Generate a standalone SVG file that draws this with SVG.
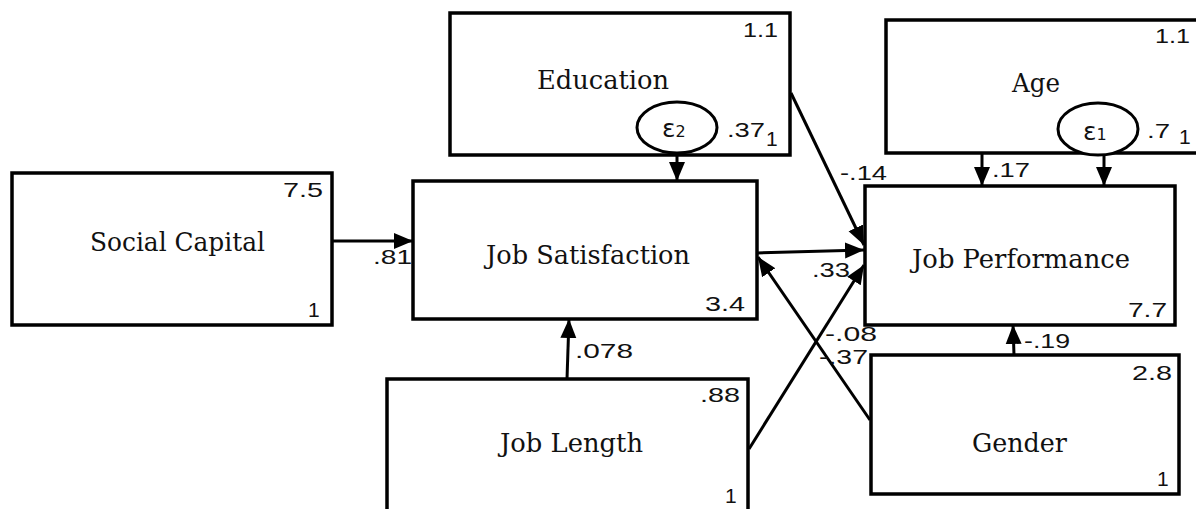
<svg xmlns="http://www.w3.org/2000/svg" width="1196" height="509" viewBox="0 0 1196 509">
<defs>
<marker id="ah" markerUnits="userSpaceOnUse" markerWidth="20" markerHeight="18" refX="19" refY="9" orient="auto">
<path d="M0,1 L19,9 L0,17 Z" fill="#000"/>
</marker>
<style>
.box{fill:#fff;stroke:#000;stroke-width:3.5}
.err{fill:#fff;stroke:#000;stroke-width:3}
.lbl{font-family:"DejaVu Serif","Liberation Serif",serif;font-size:26px;fill:#111}
.num{font-family:"Liberation Sans",Arial,sans-serif;font-size:21px;fill:#111}
.one{font-family:"Liberation Sans",Arial,sans-serif;font-size:21px;fill:#111}
.eps{font-family:"DejaVu Sans","Liberation Sans",sans-serif;font-size:25px;fill:#111}
.sub{font-size:16px}
.con{stroke:#000;stroke-width:3;fill:none;marker-end:url(#ah)}
</style>
</defs>
<rect width="1196" height="509" fill="#fff"/>

<g id="social-capital">
<rect class="box" x="12" y="173" width="320" height="152"/>
<text class="lbl" x="90" y="251" textLength="175" lengthAdjust="spacingAndGlyphs">Social Capital</text>
<text class="num" x="283" y="197" textLength="40" lengthAdjust="spacingAndGlyphs">7.5</text>
<text class="one" x="308" y="317">1</text>
</g>

<g id="job-satisfaction">
<rect class="box" x="413" y="181" width="344" height="138"/>
<text class="lbl" x="486" y="264" textLength="204" lengthAdjust="spacingAndGlyphs">Job Satisfaction</text>
<text class="num" x="705" y="311" textLength="40" lengthAdjust="spacingAndGlyphs">3.4</text>
</g>

<g id="education">
<rect class="box" x="450" y="13" width="340" height="142"/>
<text class="lbl" x="537" y="89" textLength="132" lengthAdjust="spacingAndGlyphs">Education</text>
<text class="num" x="743" y="37" textLength="35" lengthAdjust="spacingAndGlyphs">1.1</text>
<text class="num" x="727" y="137" textLength="38" lengthAdjust="spacingAndGlyphs">.37</text>
<text class="one" x="766" y="146">1</text>
</g>

<g id="e2">
<ellipse class="err" cx="677" cy="127.5" rx="40" ry="25.5"/>
<text class="eps" x="662" y="137">ε<tspan class="sub">2</tspan></text>
</g>

<g id="age">
<rect class="box" x="886" y="20" width="320" height="133"/>
<text class="lbl" x="1012" y="92" textLength="48" lengthAdjust="spacingAndGlyphs">Age</text>
<text class="num" x="1155" y="43" textLength="35" lengthAdjust="spacingAndGlyphs">1.1</text>
<text class="num" x="1147" y="138" textLength="23" lengthAdjust="spacingAndGlyphs">.7</text>
<text class="one" x="1179" y="144">1</text>
</g>

<g id="e1">
<ellipse class="err" cx="1098" cy="129" rx="40" ry="26"/>
<text class="eps" x="1083" y="140">ε<tspan class="sub">1</tspan></text>
</g>

<g id="job-performance">
<rect class="box" x="865" y="186" width="310" height="139"/>
<text class="lbl" x="912" y="268" textLength="218" lengthAdjust="spacingAndGlyphs">Job Performance</text>
<text class="num" x="1128" y="317" textLength="39" lengthAdjust="spacingAndGlyphs">7.7</text>
</g>

<g id="job-length">
<rect class="box" x="387" y="379" width="361" height="140"/>
<text class="lbl" x="500" y="452" textLength="143" lengthAdjust="spacingAndGlyphs">Job Length</text>
<text class="num" x="700" y="402" textLength="40" lengthAdjust="spacingAndGlyphs">.88</text>
<text class="one" x="725" y="503">1</text>
</g>

<g id="gender">
<rect class="box" x="871" y="355" width="308" height="139"/>
<text class="lbl" x="972" y="452" textLength="95" lengthAdjust="spacingAndGlyphs">Gender</text>
<text class="num" x="1132" y="380" textLength="40" lengthAdjust="spacingAndGlyphs">2.8</text>
<text class="one" x="1157" y="486">1</text>
</g>

<g id="connectors">
<line class="con" x1="332" y1="241" x2="413" y2="241"/>
<line class="con" x1="677" y1="153" x2="677" y2="181"/>
<line class="con" x1="567" y1="379" x2="569" y2="319"/>
<line class="con" x1="791" y1="93" x2="864" y2="245"/>
<line class="con" x1="757" y1="253" x2="864" y2="250"/>
<line class="con" x1="870" y1="420" x2="758" y2="257"/>
<line class="con" x1="749" y1="449" x2="864" y2="265"/>
<line class="con" x1="982" y1="153" x2="982" y2="186"/>
<line class="con" x1="1104" y1="155" x2="1104" y2="186"/>
<line class="con" x1="1014" y1="355" x2="1013" y2="325"/>
</g>

<g id="path-labels">
<text class="num" x="373" y="264" textLength="39" lengthAdjust="spacingAndGlyphs">.81</text>
<text class="num" x="575" y="358" textLength="58" lengthAdjust="spacingAndGlyphs">.078</text>
<text class="num" x="840" y="180" textLength="47" lengthAdjust="spacingAndGlyphs">-.14</text>
<text class="num" x="992" y="177" textLength="38" lengthAdjust="spacingAndGlyphs">.17</text>
<text class="num" x="812" y="277" textLength="38" lengthAdjust="spacingAndGlyphs">.33</text>
<text class="num" x="825" y="341" textLength="52" lengthAdjust="spacingAndGlyphs">-.08</text>
<text class="num" x="819" y="364" textLength="49" lengthAdjust="spacingAndGlyphs">-.37</text>
<text class="num" x="1024" y="348" textLength="46" lengthAdjust="spacingAndGlyphs">-.19</text>
</g>
</svg>
